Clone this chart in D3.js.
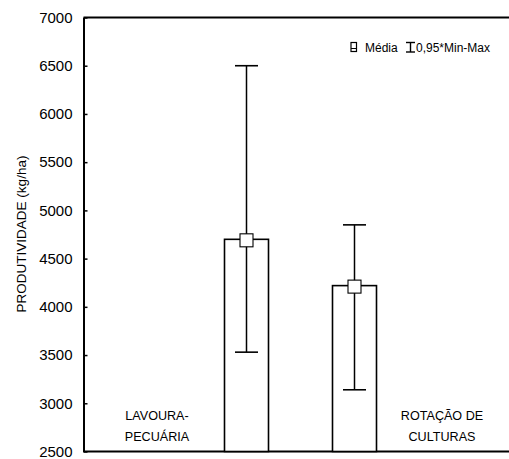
<!DOCTYPE html>
<html>
<head>
<meta charset="utf-8">
<script src="https://cdn.jsdelivr.net/npm/d3@7"></script>
<style>
  html, body { margin: 0; padding: 0; background: #fff; }
  svg { display: block; }
  text { font-family: "Liberation Sans", Arial, sans-serif; fill: #000; }
</style>
</head>
<body>
<svg id="chart" width="509" height="459"></svg>
<script>
// Productivity by system: mean bar with 0.95*min-max whiskers
const categories = ["LAVOURA-PECUÁRIA", "ROTAÇÃO DE CULTURAS"];
const meanValues = [4700, 4220];
const minValues = [3530, 3140];
const maxValues = [6500, 4850];
const yTicks = [2500, 3000, 3500, 4000, 4500, 5000, 5500, 6000, 6500, 7000];
const categoryLines = [["LAVOURA-", "PECUÁRIA"], ["ROTAÇÃO DE", "CULTURAS"]];

const svg = d3.select("#chart");
const plotLeft = 83.5, plotTop = 17.5, plotBottom = 451.5, plotRight = 509;

const y = d3.scaleLinear().domain([2500, 7000]).range([plotBottom, plotTop]);
const x = d3.scalePoint().domain(categories).range([246.5, 354.5]);
const barW = 44, capW = 23, markerSize = 13;

// frame: top and bottom lines run to the edge, left axis carries ticks
svg.append("line").attr("x1", plotLeft).attr("x2", plotRight).attr("y1", plotTop).attr("y2", plotTop)
  .attr("stroke", "#000").attr("stroke-width", 2);
svg.append("line").attr("x1", plotLeft).attr("x2", plotRight).attr("y1", plotBottom).attr("y2", plotBottom)
  .attr("stroke", "#000").attr("stroke-width", 2);

const yAxis = d3.axisLeft(y).tickValues(yTicks).tickFormat(d3.format("d"))
  .tickSizeInner(-4).tickSizeOuter(0).tickPadding(11);
const gy = svg.append("g").attr("transform", `translate(${plotLeft},0)`).call(yAxis);
gy.select(".domain").attr("stroke-width", 2);
gy.selectAll(".tick line").attr("stroke-width", 1.5);
gy.selectAll(".tick text")
  .style("font-family", "'Liberation Sans Narrow', 'Liberation Sans', Arial, sans-serif")
  .style("font-size", "15px");

// y title
svg.append("text")
  .attr("transform", `translate(26,234) rotate(-90)`)
  .attr("text-anchor", "middle")
  .style("font-size", "13.5px")
  .text("PRODUTIVIDADE (kg/ha)");

// bars
const data = categories.map((c, i) => ({ c, mean: meanValues[i], min: minValues[i], max: maxValues[i] }));

svg.selectAll("rect.bar").data(data).join("rect")
  .attr("class", "bar")
  .attr("x", d => x(d.c) - barW / 2)
  .attr("y", d => y(d.mean))
  .attr("width", barW)
  .attr("height", d => y(2500) - y(d.mean))
  .attr("fill", "#fff").attr("stroke", "#000").attr("stroke-width", 1.6);

// whiskers
const wg = svg.selectAll("g.whisker").data(data).join("g").attr("class", "whisker");
wg.append("line")
  .attr("x1", d => x(d.c)).attr("x2", d => x(d.c))
  .attr("y1", d => y(d.min)).attr("y2", d => y(d.max))
  .attr("stroke", "#000").attr("stroke-width", 1.5);
wg.append("line")
  .attr("x1", d => x(d.c) - capW / 2).attr("x2", d => x(d.c) + capW / 2)
  .attr("y1", d => y(d.max)).attr("y2", d => y(d.max))
  .attr("stroke", "#000").attr("stroke-width", 1.6);
wg.append("line")
  .attr("x1", d => x(d.c) - capW / 2).attr("x2", d => x(d.c) + capW / 2)
  .attr("y1", d => y(d.min)).attr("y2", d => y(d.min))
  .attr("stroke", "#000").attr("stroke-width", 1.6);

// mean markers
svg.selectAll("rect.marker").data(data).join("rect")
  .attr("class", "marker")
  .attr("x", d => x(d.c) - markerSize / 2)
  .attr("y", d => y(d.mean) - markerSize / 2 + 1)
  .attr("width", markerSize).attr("height", markerSize)
  .attr("fill", "#fff").attr("stroke", "#000").attr("stroke-width", 1.1);

// category labels inside the plot
const labelX = [157, 442];
categoryLines.forEach((lines, i) => {
  const t = svg.append("text").attr("text-anchor", "middle").style("font-size", "12.6px");
  lines.forEach((s, j) => {
    t.append("tspan").attr("x", labelX[i]).attr("y", 420 + j * 20.5).text(s);
  });
});

// legend
const lg = svg.append("g");
lg.append("rect").attr("x", 351).attr("y", 42.5).attr("width", 5.5).attr("height", 9)
  .attr("fill", "#fff").attr("stroke", "#000").attr("stroke-width", 1.2);
lg.append("line").attr("x1", 351).attr("x2", 356.5).attr("y1", 48.5).attr("y2", 48.5)
  .attr("stroke", "#000").attr("stroke-width", 1);
lg.append("text").attr("x", 365).attr("y", 52).style("font-size", "12px").text("Média");
lg.append("line").attr("x1", 406).attr("x2", 415).attr("y1", 42.5).attr("y2", 42.5)
  .attr("stroke", "#000").attr("stroke-width", 1.4);
lg.append("line").attr("x1", 406).attr("x2", 415).attr("y1", 52).attr("y2", 52)
  .attr("stroke", "#000").attr("stroke-width", 1.4);
lg.append("line").attr("x1", 410.5).attr("x2", 410.5).attr("y1", 42.5).attr("y2", 52)
  .attr("stroke", "#000").attr("stroke-width", 1.4);
lg.append("text").attr("x", 416).attr("y", 52).style("font-size", "12px").text("0,95*Min-Max");
</script>
</body>
</html>
